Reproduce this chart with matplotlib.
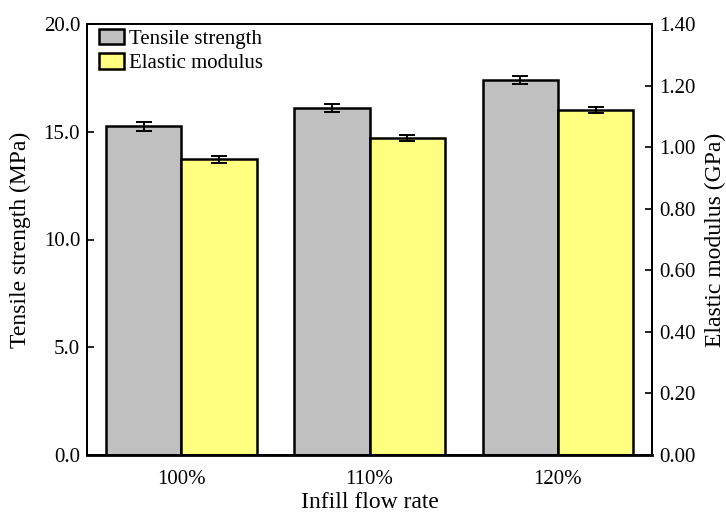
import matplotlib
matplotlib.use("Agg")
import matplotlib.pyplot as plt
import numpy as np

categories = ["100%", "110%", "120%"]
tensile = [15.25, 16.1, 17.4]
tensile_err = [0.2, 0.2, 0.2]
modulus = [0.96, 1.03, 1.12]
modulus_err = [0.01, 0.01, 0.01]

plt.rcParams['font.family'] = ['Liberation Serif', 'DejaVu Serif']
plt.rcParams['font.size'] = 15

fig = plt.figure(figsize=(7.26, 5.15), dpi=100)
ax = fig.add_axes([87/726, 1-455/515, (652-87)/726, (455-24)/515])
ax2 = ax.twinx()

x = np.arange(len(categories))
w = 0.4
b1 = ax.bar(x - w/2, tensile, w, color='#C0C0C0', edgecolor='black', linewidth=1.8,
            yerr=tensile_err, capsize=6, error_kw=dict(elinewidth=1.4, capthick=1.4, ecolor='black'),
            label='Tensile strength', zorder=2)
b2 = ax2.bar(x + w/2, modulus, w, color='#FFFF80', edgecolor='black', linewidth=1.8,
             yerr=modulus_err, capsize=6, error_kw=dict(elinewidth=1.4, capthick=1.4, ecolor='black'),
             label='Elastic modulus', zorder=2)

ax.set_xlim(-0.5, 2.5)
ax.set_ylim(0, 20)
ax2.set_ylim(0, 1.4)
ax.set_yticks(np.arange(0, 20.1, 5))
ax.set_yticklabels([f"{v:.1f}" for v in np.arange(0, 20.1, 5)])
ax2.set_yticks(np.arange(0, 1.41, 0.2))
ax2.set_yticklabels([f"{v:.2f}" for v in np.arange(0, 1.41, 0.2)])
ax.set_xticks(x)
ax.set_xticklabels(categories)

ax.tick_params(axis='x', length=0, pad=11, labelsize=15)
ax.tick_params(axis='y', direction='in', length=5, width=1.2, labelsize=15, pad=5)
ax2.tick_params(axis='y', direction='in', length=5, width=1.2, labelsize=15, pad=5)

for a in (ax, ax2):
    for s in a.spines.values():
        s.set_linewidth(1.4)
ax.spines['bottom'].set_linewidth(2.0)

ax.set_xlabel("Infill flow rate", fontsize=17, labelpad=2)
ax.set_ylabel("Tensile strength (MPa)", fontsize=17, labelpad=9)
ax2.set_ylabel("Elastic modulus (GPa)", fontsize=17, labelpad=7)

ax.legend(handles=[b1, b2], loc='upper left', bbox_to_anchor=(0.012, 1.0), frameon=False, fontsize=15,
          handlelength=1.2, handleheight=0.75, borderaxespad=0.15, handletextpad=0.25,
          labelspacing=0.2, borderpad=0.1)

fig.savefig("out.png", dpi=100)
